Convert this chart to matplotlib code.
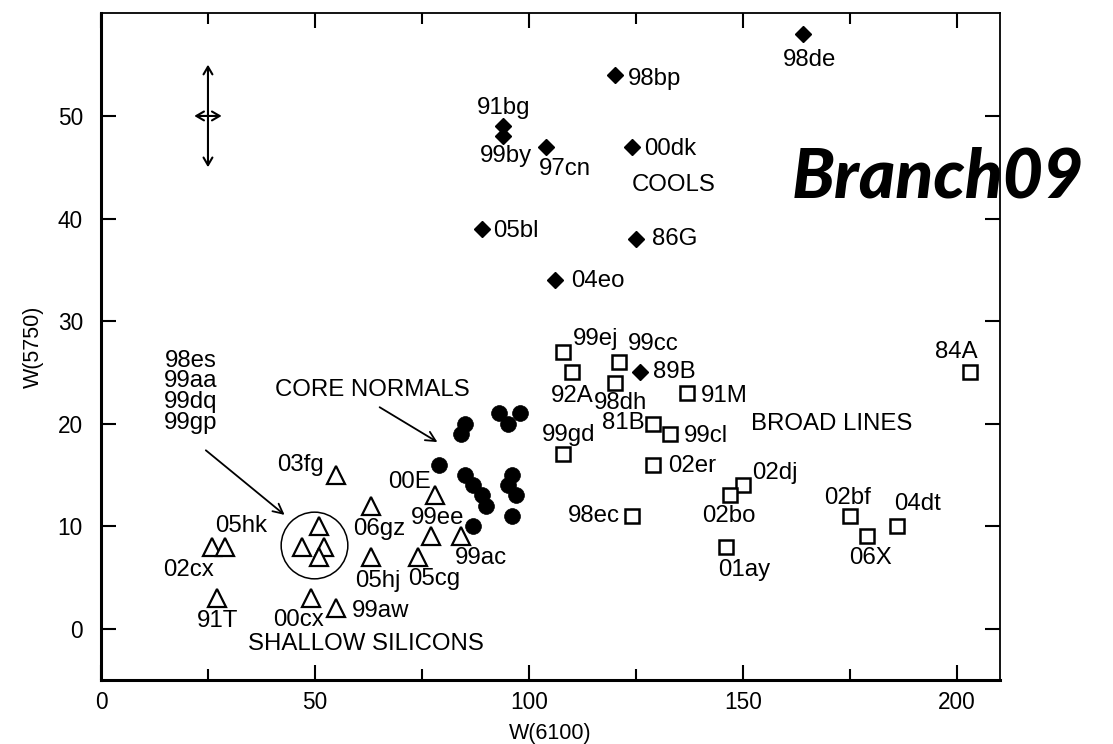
import matplotlib
matplotlib.use("Agg")
import matplotlib.pyplot as plt
from matplotlib.ticker import MultipleLocator

plt.rcParams['font.family'] = ['Liberation Sans', 'DejaVu Sans']

# ---- data: W(6100) and W(5750) pseudo-equivalent widths ----
cool_names = ["98de", "98bp", "91bg", "99by", "97cn", "00dk", "05bl", "86G", "04eo", "89B"]
cool_w6100 = [164, 120, 94, 94, 104, 124, 89, 125, 106, 126]
cool_w5750 = [58, 54, 49, 48, 47, 47, 39, 38, 34, 25]

cn_w6100 = [93, 98, 95, 85, 84, 79, 85, 87, 89, 90, 96, 95, 97, 96, 87]
cn_w5750 = [21, 21, 20, 20, 19, 16, 15, 14, 13, 12, 15, 14, 13, 11, 10]

bl_names = ["99ej", "92A", "99cc", "98dh", "91M", "81B", "99cl", "99gd", "02er",
            "02dj", "02bo", "98ec", "01ay", "02bf", "06X", "04dt", "84A"]
bl_w6100 = [108, 110, 121, 120, 137, 129, 133, 108, 129, 150, 147, 124, 146, 175, 179, 186, 203]
bl_w5750 = [27, 25, 26, 24, 23, 20, 19, 17, 16, 14, 13, 11, 8, 11, 9, 10, 25]

ss_names = ["03fg", "02cx", "05hk", "91T", "00cx", "99aw", "06gz", "05hj", "05cg", "00E", "99ee", "99ac"]
ss_w6100 = [55, 26, 29, 27, 49, 55, 63, 63, 74, 78, 77, 84]
ss_w5750 = [15, 8, 8, 3, 3, 2, 12, 7, 7, 13, 9, 9]

grp_names = ["98es", "99aa", "99dq", "99gp"]
grp_w6100 = [51, 47, 52, 51]
grp_w5750 = [10, 8, 8, 7]

# typical uncertainty shown as a cross
err_x, err_y = 25, 50
err_dx, err_dy = 3.2, 5

x_ticks = [0, 50, 100, 150, 200]
y_ticks = [0, 10, 20, 30, 40, 50]

# label placement: (dx, dy) in pixels, horizontal alignment
cool_lab = {"98de": (7, -26, "center"), "98bp": (13, -4, "left"), "91bg": (0, 18, "center"),
            "99by": (3, -20, "center"), "97cn": (19, -22, "center"), "00dk": (12, -2, "left"),
            "05bl": (11, -2, "left"), "86G": (16, 0, "left"), "04eo": (16, -1, "left"),
            "89B": (13, 0, "left")}
bl_lab = {"99ej": (32, 13), "92A": (0, -24), "99cc": (34, 18), "98dh": (6, -20),
          "91M": (37, -3), "81B": (-30, 1), "99cl": (36, -2), "99gd": (5, 19),
          "02er": (39, -1), "02dj": (32, 12), "02bo": (-1, -21), "98ec": (-38, 0),
          "01ay": (18, -23), "02bf": (-3, 18), "06X": (3, -22), "04dt": (20, 22),
          "84A": (-14, 20)}
ss_lab = {"03fg": (-36, 10), "02cx": (-24, -23), "05hk": (16, 21), "91T": (1, -23),
          "00cx": (-12, -22), "99aw": (44, -3), "06gz": (9, -23), "05hj": (7, -24),
          "05cg": (16, -22), "00E": (-25, 13), "99ee": (7, 18), "99ac": (20, -22)}

LFS = 17.3

fig = plt.figure(figsize=(11.13, 7.44), dpi=100)
ax = fig.add_axes([0.0907, 0.086, 0.8077, 0.896])
ax.set_xlim(0, 210)
ax.set_ylim(-5, 60)

ax.plot(cool_w6100, cool_w5750, 'D', ms=8.6, color='black', mew=1, zorder=3)
ax.plot(cn_w6100, cn_w5750, 'o', ms=11.4, color='black', mew=0.5, zorder=3)
ax.plot(bl_w6100, bl_w5750, 's', ms=9.8, mfc='white', mec='black', mew=1.8, zorder=3)
ax.plot(ss_w6100, ss_w5750, '^', ms=12.3, mfc='white', mec='black', mew=1.6, zorder=3)
ax.plot(grp_w6100, grp_w5750, '^', ms=12.3, mfc='white', mec='black', mew=1.6, zorder=3)

# ring around the unresolved group
gx = sum(grp_w6100) / len(grp_w6100)
gy = sum(grp_w5750) / len(grp_w5750)
ax.plot([gx - 0.5], [gy - 0.1], 'o', ms=48, mfc='none', mec='black', mew=1.1, zorder=2)

for n, x, y in zip(cool_names, cool_w6100, cool_w5750):
    dx, dy, ha = cool_lab[n]
    ax.annotate(n, (x, y), xytext=(dx, dy), textcoords='offset pixels',
                ha=ha, va='center', fontsize=LFS)
for n, x, y in zip(bl_names, bl_w6100, bl_w5750):
    dx, dy = bl_lab[n]
    ax.annotate(n, (x, y), xytext=(dx, dy), textcoords='offset pixels',
                ha='center', va='center', fontsize=LFS)
for n, x, y in zip(ss_names, ss_w6100, ss_w5750):
    dx, dy = ss_lab[n]
    ax.annotate(n, (x, y), xytext=(dx, dy), textcoords='offset pixels',
                ha='center', va='center', fontsize=LFS)

ax.text(20.9, 23.1, "\n".join(grp_names), ha='center', va='center',
        fontsize=LFS, linespacing=0.93)

# group captions
ax.text(133.9, 43.3, "COOLS", ha='center', va='center', fontsize=LFS)
ax.text(170.7, 20.0, "BROAD LINES", ha='center', va='center', fontsize=LFS)
ax.text(61.9, -1.5, "SHALLOW SILICONS", ha='center', va='center', fontsize=LFS)
ax.text(63.4, 23.25, "CORE NORMALS", ha='center', va='center', fontsize=LFS)

arrow = dict(arrowstyle='->,head_length=0.7,head_width=0.35', lw=1.3, color='black',
             shrinkA=0, shrinkB=0)
ax.annotate("", xy=(78.6, 18.2), xytext=(65.1, 21.6), arrowprops=arrow)
ax.annotate("", xy=(42.9, 11.1), xytext=(24.5, 17.4), arrowprops=arrow)

# error cross
cross = dict(arrowstyle='<->,head_length=0.55,head_width=0.32', lw=1.5, color='black',
             shrinkA=0, shrinkB=0)
ax.annotate("", xy=(err_x, err_y + err_dy), xytext=(err_x, err_y - err_dy), arrowprops=cross)
ax.annotate("", xy=(err_x + err_dx, err_y), xytext=(err_x - err_dx, err_y), arrowprops=cross)

# axes styling
ax.set_xticks(x_ticks)
ax.set_yticks(y_ticks)
ax.xaxis.set_minor_locator(MultipleLocator(25))
ax.tick_params(which='both', direction='in', top=True, right=True, width=1.5, labelsize=16.3)
ax.tick_params(which='major', length=11)
ax.tick_params(which='minor', length=8)
ax.tick_params(axis='x', pad=8)
ax.tick_params(axis='y', pad=13)
ax.spines['left'].set_linewidth(2.2)
ax.spines['bottom'].set_linewidth(2.2)
ax.spines['top'].set_linewidth(1.3)
ax.spines['right'].set_linewidth(1.3)

fig.text(550 / 1113, 1 - 733 / 744, "W(6100)", ha='center', va='center', fontsize=15.5)
fig.text(33 / 1113, 1 - 347 / 744, "W(5750)", ha='center', va='center', fontsize=15.5,
         rotation=90)

fig.text(937.5 / 1113, 1 - 178.5 / 744, "Branch09", ha='center', va='center',
         fontsize=50, fontweight='black', fontstyle='italic', family=['Lato', 'DejaVu Sans'])

fig.savefig("out.png", dpi=100)
